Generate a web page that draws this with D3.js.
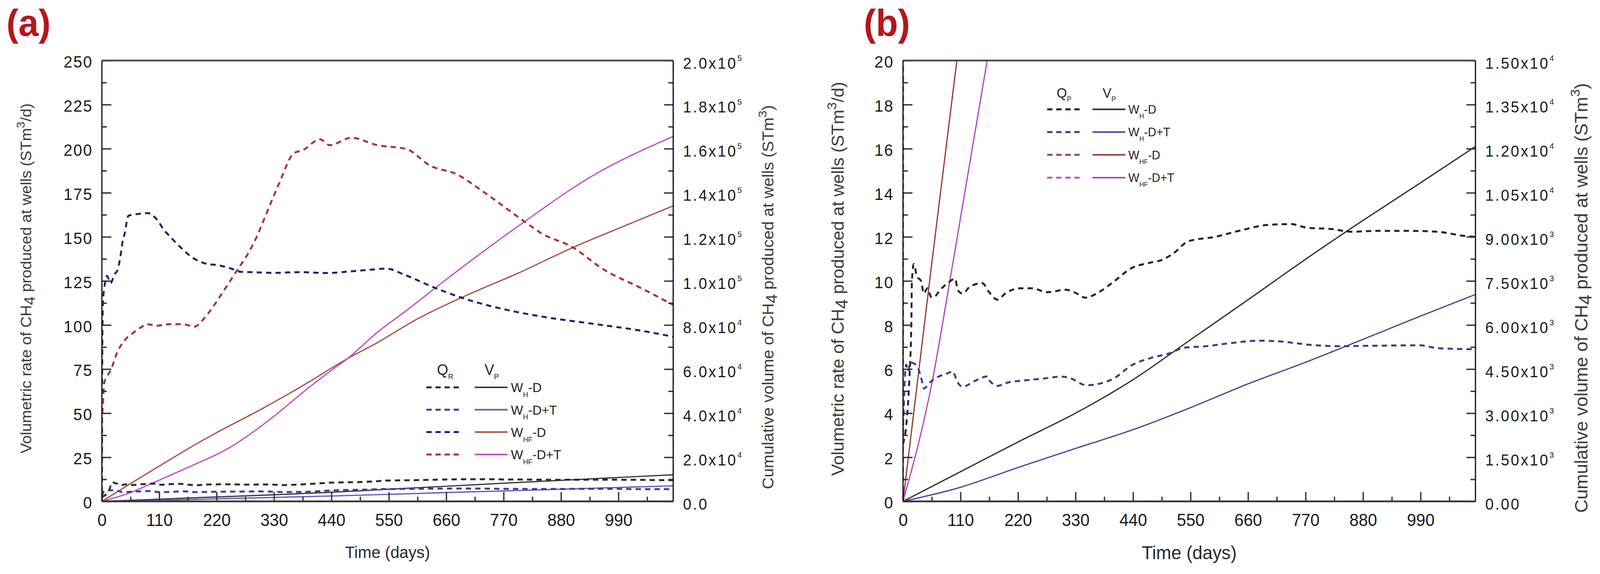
<!DOCTYPE html>
<html>
<head>
<meta charset="utf-8">
<script src="https://cdn.jsdelivr.net/npm/d3@7"></script>
<style>
  html, body { margin: 0; padding: 0; background: #fff; overflow: hidden; }
  svg { display: block; width: 100vw; height: 100vh; }
  svg text { font-family: "Liberation Sans", Arial, sans-serif; }
</style>
</head>
<body>
<script>
// ---- data (time in days) ----
// Q: volumetric rate of CH4 (STm3/d)
var qHD_t = [0, 6, 12, 16, 17, 20.7, 26.3, 34.9, 39.6, 46.8, 54, 58.8, 70.9, 85.4, 99.8, 104.6, 114, 128, 151.8, 164, 181, 195.6, 224.4, 246.8, 275.5, 311.4, 330, 349, 372.5, 401, 437, 473, 494.6, 516, 546, 597, 647, 697, 742, 772, 822, 858, 898, 973, 1023, 1078, 1095];
var qHD_v = [2.6, 3.4, 5.5, 8.2, 10.0, 10.77, 10.22, 9.98, 9.43, 9.67, 9.27, 9.27, 9.59, 9.9, 10.1, 9.59, 9.43, 9.74, 9.9, 9.51, 9.15, 9.43, 9.67, 9.67, 9.49, 9.6, 9.46, 9.24, 9.46, 9.93, 10.58, 10.83, 10.95, 11.23, 11.8, 12.0, 12.3, 12.54, 12.58, 12.42, 12.35, 12.23, 12.27, 12.27, 12.23, 12.03, 12.0];

var qHDT_t = [0, 2, 4, 6, 10, 14, 19.7, 29, 35.3, 40, 51, 65.7, 87.4, 94.6, 104.6, 114, 137.8, 161.5, 166, 181, 200, 228.8, 264.7, 304, 318.6, 350.8, 386.8, 404.7, 437, 473, 509, 537.6, 580.7, 616.6, 681.4, 724.5, 774.5, 837, 897.6, 988, 1023, 1095];
var qHDT_v = [3.0, 4.6, 5.8, 6.2, 5.9, 6.3, 6.27, 6.03, 5.55, 5.12, 5.39, 5.63, 5.83, 5.9, 5.39, 5.2, 5.47, 5.67, 5.47, 5.24, 5.39, 5.48, 5.56, 5.66, 5.6, 5.27, 5.41, 5.6, 6.17, 6.5, 6.71, 6.97, 7.04, 7.15, 7.29, 7.25, 7.11, 7.04, 7.06, 7.08, 6.95, 6.9];

var qHFD_t = [0, 1, 2, 4, 6, 9.6, 16.9, 24, 30, 34.8, 39.8, 43.4, 51, 70, 88, 105, 120, 128, 151, 175, 197, 226.6, 250.8, 265, 287, 330, 380, 430, 480, 520, 545, 580, 639, 700, 792, 860, 934, 1035, 1095];
var qHFD_v = [0, 95, 112, 120, 124, 127.8, 123.8, 128.7, 131.2, 137.6, 147.5, 151.5, 162, 163, 163.5, 160, 153.5, 151, 144, 138, 135, 133.7, 131.7, 130.2, 130, 129.6, 130, 129.5, 130.5, 131.5, 132, 128.5, 121, 114.5, 107.6, 104, 101, 96.7, 93.4];

var qHFDT_t = [0, 0.5, 2, 4.8, 10, 16.9, 29, 45.8, 57.9, 77.2, 86.8, 103.6, 130, 154, 178.4, 190.5, 214.6, 238.7, 262.8, 275, 299, 312, 340, 367.5, 386, 418, 436.6, 478, 528, 583.7, 629, 680, 731, 807, 842.6, 903, 959, 1035, 1095];
var qHFDT_v = [0, 45, 55, 67.4, 71, 74.4, 84.2, 92.1, 95.1, 99.1, 100.5, 99.6, 100.5, 100.5, 99.1, 102, 111, 121.8, 132.7, 138, 151.5, 160.8, 180.5, 197.3, 199.3, 205.3, 202, 206.2, 202, 199.8, 190.4, 185.5, 175.6, 159.3, 152, 144, 132, 120.7, 111.4];

// V: cumulative volume of CH4 (STm3)
var vHD_t = [0, 110, 221, 330, 440, 550, 660, 771, 880, 990, 1095];
var vHD_v = [0, 1010, 2030, 3000, 4140, 5500, 6860, 8250, 9560, 10840, 12075];

var vHDT_t = [0, 110, 221, 330, 440, 550, 660, 771, 878, 988, 1095];
var vHDT_v = [0, 480, 1160, 1800, 2440, 3190, 4000, 4740, 5500, 6290, 7040];

var vHFD_t = [0, 55, 110, 166, 220, 305, 390, 471, 528, 600, 700, 797, 903, 1000, 1095];
var vHFD_v = [0, 8100, 16000, 24000, 31200, 41760, 53200, 64800, 72000, 82160, 93600, 103440, 115200, 124800, 134080];

var vHFDT_t = [0, 55, 92, 161, 249, 332, 388, 443, 471, 526, 579, 665, 807, 934, 1095];
var vHFDT_v = [0, 4000, 7760, 15000, 24960, 39000, 50000, 60000, 64800, 76320, 85760, 101600, 126400, 146800, 165600];

// ---- ticks / labels ----
var dayTicks = [0, 110, 220, 330, 440, 550, 660, 770, 880, 990];
var rateTicksA = [0, 25, 50, 75, 100, 125, 150, 175, 200, 225, 250];
var rateTicksB = [0, 2, 4, 6, 8, 10, 12, 14, 16, 18, 20];
var volTicksA = [0, 20000, 40000, 60000, 80000, 100000, 120000, 140000, 160000, 180000, 200000];
var volLabelsA = ["0.0", "2.0x10^4", "4.0x10^4", "6.0x10^4", "8.0x10^4", "1.0x10^5", "1.2x10^5", "1.4x10^5", "1.6x10^5", "1.8x10^5", "2.0x10^5"];
var volTicksB = [0, 1500, 3000, 4500, 6000, 7500, 9000, 10500, 12000, 13500, 15000];
var volLabelsB = ["0.00", "1.50x10^3", "3.00x10^3", "4.50x10^3", "6.00x10^3", "7.50x10^3", "9.00x10^3", "1.05x10^4", "1.20x10^4", "1.35x10^4", "1.50x10^4"];

var caseKeys = ["H", "H", "HF", "HF"];
var caseTails = ["-D", "-D+T", "-D", "-D+T"];

var W = 4240, H = 1470, dayMax = 1095;

// fill the window exactly, whatever its real size
var svg = d3.select("body").append("svg")
    .attr("viewBox", "0 0 " + W + " " + H)
    .attr("preserveAspectRatio", "none");

function zip(ts, vs) {
  return ts.map(function(t, i) { return [t, vs[i]]; });
}

// write a string with sub/superscript pieces into a text element
function richText(sel, segs, fs) {
  var shift = 0;
  segs.forEach(function(s) {
    var want = s.sub ? fs * (s.shift || 0.25) : s.sup ? -fs * (s.shift || 0.45) : 0;
    var ts = sel.append("tspan").attr("dy", want - shift).text(s.t);
    if (s.size) ts.attr("font-size", fs * s.size);
    shift = want;
  });
}

var panels = [
  {
    id: "a", tag: "(a)", tagX: 17,
    x0: 270, x1: 1784, y0: 155, y1: 1284,
    rateMax: 250, rateTicks: rateTicksA, rateMinor: 12.5,
    volMax: 200000, volTicks: volTicksA, volLabels: volLabelsA,
    qName: "R",
    colors: {
      q: ["#2b2b2b", "#3d3d9c", "#1f1f70", "#a23434"],
      v: ["#3a3a3a", "#5c5cb2", "#a84f44", "#c04cc8"]
    },
    leg: { qx: 1158, vx: 1284, hy: 960, d1: 1130, d2: 1221, s1: 1258, s2: 1345, lx: 1354, y: 992, dy: 57.3, fs: 34, hfs: 38 },
    lt: { x: 83, y: 713, fs: 40 }, rt: { x: 2050, y: 761, fs: 42 }, xt: { y: 1429, fs: 43 }
  },
  {
    id: "b", tag: "(b)", tagX: 2289,
    x0: 2393, x1: 3910, y0: 155, y1: 1284,
    rateMax: 20, rateTicks: rateTicksB, rateMinor: 1,
    volMax: 15000, volTicks: volTicksB, volLabels: volLabelsB,
    qName: "P",
    colors: {
      q: ["#222222", "#3a3a8e", "#a0483e", "#c050c8"],
      v: ["#2e2e2e", "#4646a2", "#943a30", "#b044c0"]
    },
    leg: { qx: 2800, vx: 2922, hy: 250, d1: 2775, d2: 2864, s1: 2895, s2: 2982, lx: 2990, y: 280, dy: 58.3, fs: 31, hfs: 35 },
    lt: { x: 2236, y: 714, fs: 45 }, rt: { x: 4207, y: 763, fs: 47 }, xt: { y: 1432, fs: 48 }
  }
];

var rateSeries = [zip(qHD_t, qHD_v), zip(qHDT_t, qHDT_v), zip(qHFD_t, qHFD_v), zip(qHFDT_t, qHFDT_v)];
var volSeries = [zip(vHD_t, vHD_v), zip(vHDT_t, vHDT_v), zip(vHFD_t, vHFD_v), zip(vHFDT_t, vHFDT_v)];

panels.forEach(drawPanel);

function drawPanel(p) {
  var g = svg.append("g");

  var x = d3.scaleLinear().domain([0, dayMax]).range([p.x0, p.x1]);
  var yL = d3.scaleLinear().domain([0, p.rateMax]).range([p.y1, p.y0]);
  var yR = d3.scaleLinear().domain([0, p.volMax]).range([p.y1, p.y0]);

  g.append("clipPath").attr("id", "clip-" + p.id)
    .append("rect")
      .attr("x", p.x0).attr("y", p.y0)
      .attr("width", p.x1 - p.x0).attr("height", p.y1 - p.y0);

  var plot = g.append("g").attr("clip-path", "url(#clip-" + p.id + ")");

  var lineL = d3.line().x(function(d) { return x(d[0]); }).y(function(d) { return yL(d[1]); }).curve(d3.curveMonotoneX);
  var lineR = d3.line().x(function(d) { return x(d[0]); }).y(function(d) { return yR(d[1]); }).curve(d3.curveMonotoneX);

  // solid cumulative curves
  volSeries.forEach(function(s, i) {
    plot.append("path")
      .attr("d", lineR(s))
      .attr("fill", "none")
      .attr("stroke", p.colors.v[i])
      .attr("stroke-width", 3.2);
  });

  // dashed rate curves
  rateSeries.forEach(function(s, i) {
    plot.append("path")
      .attr("d", lineL(s))
      .attr("fill", "none")
      .attr("stroke", p.colors.q[i])
      .attr("stroke-width", 5)
      .attr("stroke-dasharray", "14,11");
  });

  // axes, ticks inward
  var dayMinor = dayTicks.map(function(d) { return d + 55; });
  var rateMinor = p.rateTicks.slice(0, -1).map(function(d) { return d + p.rateMinor; });
  var volMinor = p.volTicks.slice(0, -1).map(function(d, i) { return (d + p.volTicks[i + 1]) / 2; });

  var gx = g.append("g").attr("transform", "translate(0," + p.y1 + ")")
    .call(d3.axisBottom(x).tickValues(dayTicks).tickSizeInner(-24).tickSizeOuter(0).tickPadding(32).tickFormat(d3.format("d")));
  g.append("g").attr("transform", "translate(0," + p.y1 + ")")
    .call(d3.axisBottom(x).tickValues(dayMinor).tickSizeInner(-12).tickSizeOuter(0).tickFormat(""));

  var gl = g.append("g").attr("transform", "translate(" + p.x0 + ",0)")
    .call(d3.axisLeft(yL).tickValues(p.rateTicks).tickSizeInner(-25).tickSizeOuter(0).tickPadding(24).tickFormat(d3.format("d")));
  g.append("g").attr("transform", "translate(" + p.x0 + ",0)")
    .call(d3.axisLeft(yL).tickValues(rateMinor).tickSizeInner(-13).tickSizeOuter(0).tickFormat(""));

  var gr = g.append("g").attr("transform", "translate(" + p.x1 + ",0)")
    .call(d3.axisRight(yR).tickValues(p.volTicks).tickSizeInner(-24).tickSizeOuter(0).tickPadding(26));
  g.append("g").attr("transform", "translate(" + p.x1 + ",0)")
    .call(d3.axisRight(yR).tickValues(volMinor).tickSizeInner(-13).tickSizeOuter(0).tickFormat(""));

  g.selectAll(".domain").remove();
  g.selectAll(".tick line").attr("stroke", "#333").attr("stroke-width", 3.5);

  gx.selectAll(".tick text").attr("font-size", 44).attr("fill", "#1a1a1a");
  gl.selectAll(".tick text").attr("font-size", 42).attr("fill", "#1a1a1a")
    .attr("letter-spacing", 2.5).attr("dy", "0.42em");
  gr.selectAll(".tick text").attr("font-size", 40).attr("fill", "#1a1a1a")
    .attr("letter-spacing", 4).attr("dy", "0.5em")
    .each(function(d, i) {
      var parts = p.volLabels[i].split("^");
      var t = d3.select(this).text(parts[0]);
      if (parts[1]) {
        t.append("tspan").attr("dy", -20).attr("font-size", 21).attr("letter-spacing", 0).text(parts[1]);
      }
    });

  // frame
  g.append("line").attr("x1", p.x0).attr("x2", p.x1).attr("y1", p.y0).attr("y2", p.y0)
    .attr("stroke", "#4a4a4a").attr("stroke-width", 4.5);
  g.append("line").attr("x1", p.x0).attr("x2", p.x1).attr("y1", p.y1).attr("y2", p.y1)
    .attr("stroke", "#333").attr("stroke-width", 4.5);
  g.append("line").attr("x1", p.x0).attr("x2", p.x0).attr("y1", p.y0).attr("y2", p.y1)
    .attr("stroke", "#111").attr("stroke-width", 3.2);
  g.append("line").attr("x1", p.x1).attr("x2", p.x1).attr("y1", p.y0).attr("y2", p.y1)
    .attr("stroke", "#111").attr("stroke-width", 3.2);

  // axis titles
  g.append("text")
    .attr("x", (p.x0 + p.x1) / 2).attr("y", p.xt.y)
    .attr("text-anchor", "middle").attr("font-size", p.xt.fs).attr("fill", "#2a2a2a")
    .text("Time (days)");

  var lt = g.append("text")
    .attr("transform", "translate(" + p.lt.x + "," + p.lt.y + ") rotate(-90)")
    .attr("text-anchor", "middle").attr("font-size", p.lt.fs).attr("fill", "#3c3c3c");
  richText(lt, [
    { t: "Volumetric rate of CH" }, { t: "4", sub: true, shift: 0.22 },
    { t: " produced at wells (STm" }, { t: "3", sup: true, size: 0.75 }, { t: "/d)" }
  ], p.lt.fs);

  var rt = g.append("text")
    .attr("transform", "translate(" + p.rt.x + "," + p.rt.y + ") rotate(-90)")
    .attr("text-anchor", "middle").attr("font-size", p.rt.fs).attr("fill", "#3c3c3c");
  richText(rt, [
    { t: "Cumulative volume of CH" }, { t: "4", sub: true, shift: 0.22 },
    { t: " produced at wells (STm" }, { t: "3", sup: true, size: 0.75 }, { t: ")" }
  ], p.rt.fs);

  // legend
  var L = p.leg;
  var hq = g.append("text").attr("x", L.qx).attr("y", L.hy).attr("font-size", L.hfs).attr("fill", "#222");
  richText(hq, [{ t: "Q" }, { t: p.qName, sub: true, size: 0.5, shift: 0.3 }], L.hfs);
  var hv = g.append("text").attr("x", L.vx).attr("y", L.hy).attr("font-size", L.hfs).attr("fill", "#222");
  richText(hv, [{ t: "V" }, { t: "P", sub: true, size: 0.5, shift: 0.3 }], L.hfs);

  caseKeys.forEach(function(k, i) {
    var ry = L.y + i * L.dy;
    g.append("line").attr("x1", L.d1).attr("x2", L.d2).attr("y1", ry).attr("y2", ry)
      .attr("stroke", p.colors.q[i]).attr("stroke-width", 5).attr("stroke-dasharray", "14,10");
    g.append("line").attr("x1", L.s1).attr("x2", L.s2).attr("y1", ry).attr("y2", ry)
      .attr("stroke", p.colors.v[i]).attr("stroke-width", 4);
    var lab = g.append("text").attr("x", L.lx).attr("y", ry + L.fs * 0.36)
      .attr("font-size", L.fs).attr("fill", "#222");
    richText(lab, [{ t: "W" }, { t: k, sub: true, size: 0.55, shift: 0.38 }, { t: caseTails[i] }], L.fs);
  });

  // panel tag
  g.append("text")
    .attr("x", p.tagX).attr("y", 92)
    .attr("font-family", "'Liberation Serif', 'DejaVu Serif', serif")
    .attr("font-weight", "bold").attr("font-size", 96).attr("fill", "#b8141c")
    .text(p.tag);
}
</script>
</body>
</html>
